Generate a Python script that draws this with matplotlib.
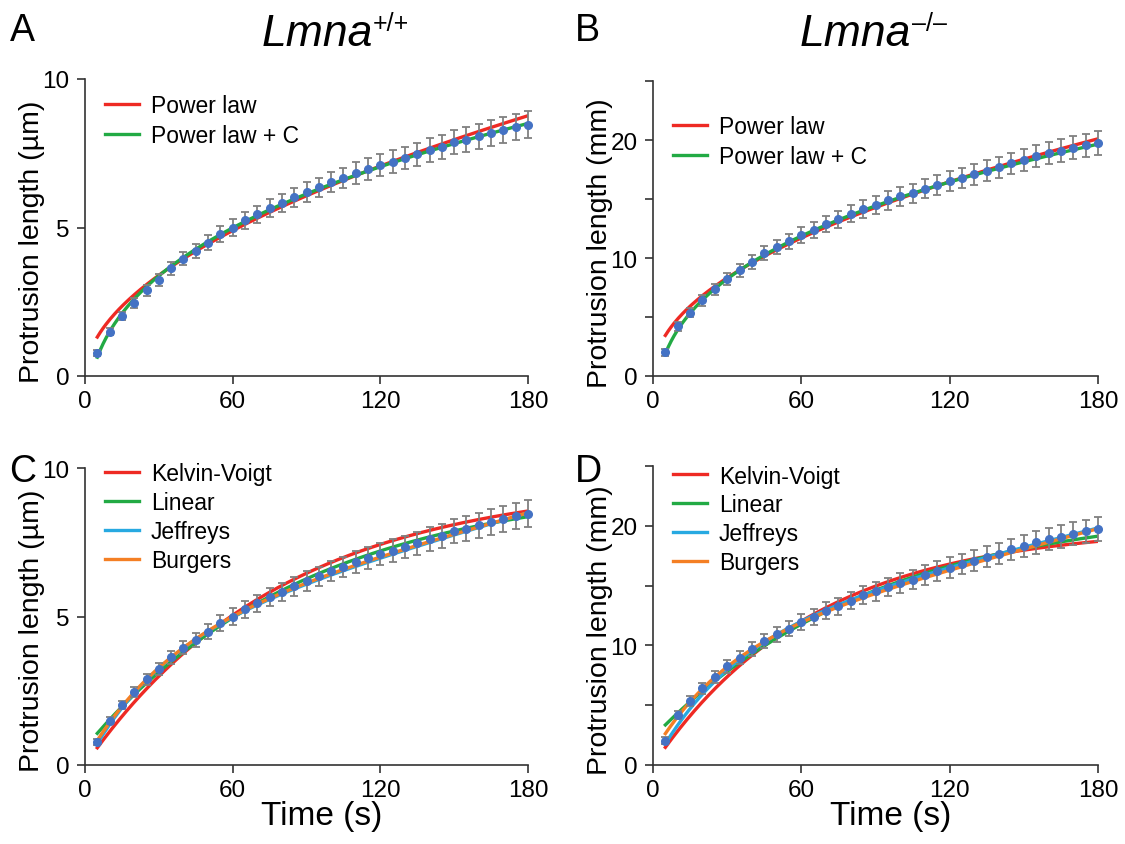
import numpy as np
import matplotlib
matplotlib.use("Agg")
import matplotlib.pyplot as plt

plt.rcParams['font.family'] = ['Liberation Sans', 'DejaVu Sans']

# measured protrusion (mean +/- error), every 5 s
time = np.arange(5, 181, 5)
wt_mean = [0.77, 1.49, 2.01, 2.46, 2.89, 3.24, 3.62, 3.95, 4.20, 4.49, 4.78, 5.00,
           5.24, 5.45, 5.66, 5.82, 6.02, 6.19, 6.35, 6.52, 6.67, 6.84, 6.97, 7.10,
           7.22, 7.34, 7.47, 7.62, 7.72, 7.87, 7.96, 8.07, 8.18, 8.29, 8.38, 8.46]
wt_err = [0.10, 0.12, 0.14, 0.16, 0.18, 0.20, 0.21, 0.22, 0.24, 0.25, 0.26, 0.27,
          0.28, 0.29, 0.30, 0.31, 0.32, 0.33, 0.33, 0.34, 0.35, 0.36, 0.36, 0.37,
          0.38, 0.38, 0.39, 0.40, 0.40, 0.41, 0.42, 0.42, 0.43, 0.44, 0.45, 0.46]
ko_mean = [2.03, 4.20, 5.36, 6.41, 7.34, 8.25, 8.98, 9.69, 10.39, 10.93, 11.41, 11.92,
           12.37, 12.90, 13.27, 13.75, 14.18, 14.52, 14.88, 15.22, 15.50, 15.87, 16.21, 16.50,
           16.80, 17.08, 17.40, 17.68, 18.02, 18.33, 18.61, 18.90, 19.09, 19.35, 19.54, 19.77]
ko_err = [0.30, 0.35, 0.40, 0.45, 0.48, 0.52, 0.55, 0.58, 0.60, 0.62, 0.65, 0.67,
          0.69, 0.70, 0.72, 0.74, 0.75, 0.77, 0.78, 0.80, 0.81, 0.82, 0.84, 0.85,
          0.86, 0.87, 0.88, 0.90, 0.91, 0.92, 0.93, 0.94, 0.96, 0.97, 0.98, 1.00]

# fitted model parameters
wt_power = (0.559, 0.53)            # a, b
wt_power_c = (1.789, 0.35, -2.51)   # a, b, c
ko_power = (1.557, 0.4926)
ko_power_c = (4.613, 0.33, -5.95)

wt_kv = (9.56, 80.0)                # A, tau
wt_linear = (0.58, 9.0, 90.0)       # J0, J1, tau
wt_jeffreys = (4.17, 32.0, 0.0241)  # A, tau, k
wt_burgers = (0.15, 4.23, 35.0, 0.0230)  # J0, J1, tau, k
ko_kv = (19.95, 65.0)
ko_linear = (2.30, 19.47, 90.0)
ko_jeffreys = (10.5, 32.0, 0.052)
ko_burgers = (1.0, 8.76, 30.0, 0.0557)

RED = "#EE2A24"
GREEN = "#22AA44"
CYAN = "#27A9E1"
ORANGE = "#F47F24"
BLUE = "#4472C4"
GREY = "#808080"

tt = np.linspace(5, 180, 300)


def power(p):
    return p[0] * tt ** p[1]


def power_c(p):
    return p[0] * tt ** p[1] + p[2]


def kv(p):
    return p[0] * (1 - np.exp(-tt / p[1]))


def linear(p):
    return p[0] + p[1] * (1 - np.exp(-tt / p[2]))


def jeffreys(p):
    return p[0] * (1 - np.exp(-tt / p[1])) + p[2] * tt


def burgers(p):
    return p[0] + p[1] * (1 - np.exp(-tt / p[2])) + p[3] * tt


fig = plt.figure(figsize=(11.25, 8.45), dpi=100)
W, H = 1125.0, 845.0


def make_ax(x0, x1, y0, y1):
    return fig.add_axes([x0 / W, 1 - y0 / H, (x1 - x0) / W, (y0 - y1) / H])


axA = make_ax(85, 528, 377, 80)
axB = make_ax(653, 1098, 377, 82)
axC = make_ax(85, 528, 766, 469)
axD = make_ax(653, 1098, 766, 467)


def style(ax, ymax, unit, big):
    ax.set_xlim(0, 180)
    ax.set_ylim(0, ymax)
    ax.set_xticks([0, 60, 120, 180])
    if big:
        ax.set_yticks([0, 5, 10, 15, 20, 25])
        ax.set_yticklabels(['0', '', '10', '', '20', ''])
    else:
        ax.set_yticks([0, 5, 10])
    for s in ['top', 'right']:
        ax.spines[s].set_visible(False)
    for s in ['left', 'bottom']:
        ax.spines[s].set_linewidth(1.2)
        ax.spines[s].set_color('#333333')
    ax.tick_params(direction='out', length=6, width=1.2, colors='#333333',
                   labelcolor='black', labelsize=17.5)
    ax.tick_params(axis='y', pad=5)
    ax.tick_params(axis='x', pad=4)
    ax.set_ylabel(f"Protrusion length ({unit})", fontsize=20.5)
    ax.yaxis.set_label_coords(-40 / 443, 0.455)


def data(ax, mean, err):
    ax.errorbar(time, mean, yerr=err, fmt='o', color=BLUE, markersize=5.5,
                ecolor=GREY, elinewidth=1.3, capsize=3.2, capthick=1.3,
                zorder=5, clip_on=False)


def legend(ax, x, y, spacing):
    ax.legend(loc='upper left', bbox_to_anchor=(x, y), frameon=False,
              fontsize=16.5, handlelength=1.5, handletextpad=0.5,
              labelspacing=spacing, borderpad=0, borderaxespad=0)


# A
axA.plot(tt, power(wt_power), color=RED, lw=2.4, label="Power law")
axA.plot(tt, power_c(wt_power_c), color=GREEN, lw=2.4, label="Power law + C")
data(axA, wt_mean, wt_err)
style(axA, 10, "µm", False)
legend(axA, 0.045, 0.95, 0.33)

# B
axB.plot(tt, power(ko_power), color=RED, lw=2.4, label="Power law")
axB.plot(tt, power_c(ko_power_c), color=GREEN, lw=2.4, label="Power law + C")
data(axB, ko_mean, ko_err)
style(axB, 25, "mm", True)
legend(axB, 0.045, 0.885, 0.33)

# C
axC.plot(tt, kv(wt_kv), color=RED, lw=2.4, label="Kelvin-Voigt")
axC.plot(tt, linear(wt_linear), color=GREEN, lw=2.4, label="Linear")
axC.plot(tt, jeffreys(wt_jeffreys), color=CYAN, lw=2.4, label="Jeffreys")
axC.plot(tt, burgers(wt_burgers), color=ORANGE, lw=2.4, label="Burgers")
data(axC, wt_mean, wt_err)
style(axC, 10, "µm", False)
axC.set_xlabel("Time (s)", fontsize=24, va='top')
axC.xaxis.set_label_coords(0.535, -0.118)
legend(axC, 0.045, 1.02, 0.26)

# D
axD.plot(tt, kv(ko_kv), color=RED, lw=2.4, label="Kelvin-Voigt")
axD.plot(tt, linear(ko_linear), color=GREEN, lw=2.4, label="Linear")
axD.plot(tt, jeffreys(ko_jeffreys), color=CYAN, lw=2.4, label="Jeffreys")
axD.plot(tt, burgers(ko_burgers), color=ORANGE, lw=2.4, label="Burgers")
data(axD, ko_mean, ko_err)
style(axD, 25, "mm", True)
axD.set_xlabel("Time (s)", fontsize=24, va='top')
axD.xaxis.set_label_coords(0.535, -0.118)
legend(axD, 0.045, 1.005, 0.26)

# panel letters and genotype titles
for lab, x, y in [("A", 10, 31), ("B", 575, 31), ("C", 9, 472), ("D", 575, 472)]:
    fig.text(x / W, 1 - y / H, lab, fontsize=27, va='center', ha='left')
fig.text(262 / W, 1 - 46 / H, "Lmna", fontsize=32, style='italic',
         ha='left', va='baseline')
fig.text(373 / W, 1 - 31 / H, "+/+", fontsize=18, ha='left', va='baseline')
fig.text(800 / W, 1 - 46 / H, "Lmna", fontsize=32, style='italic',
         ha='left', va='baseline')
fig.text(912 / W, 1 - 31 / H, "\u2013/\u2013", fontsize=18, ha='left', va='baseline')

fig.savefig("out.png", dpi=100)
